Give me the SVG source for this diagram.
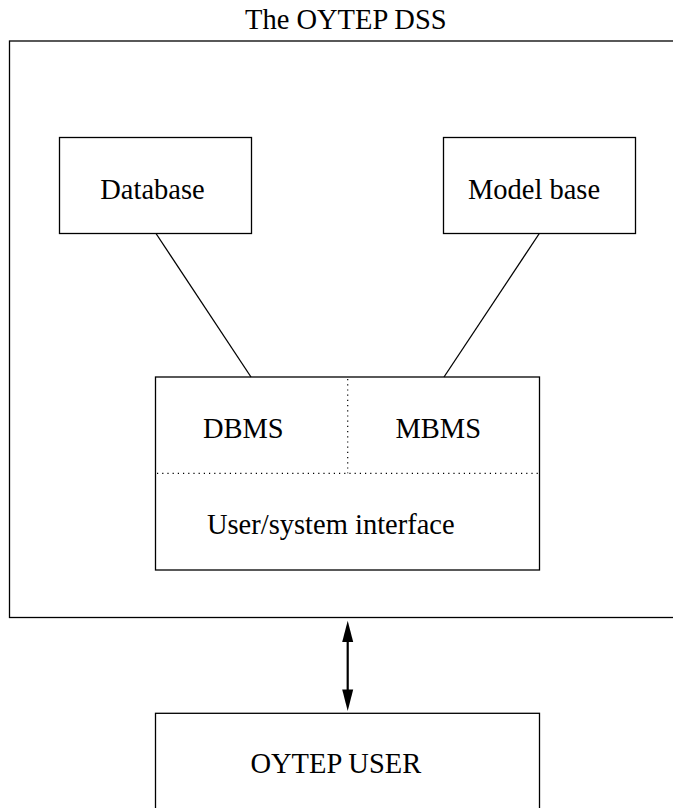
<svg xmlns="http://www.w3.org/2000/svg" width="673" height="808" viewBox="0 0 673 808">
<style>
text{font-family:"Liberation Serif","Times New Roman",serif;font-size:28.5px;fill:#000;text-anchor:middle}
.box{fill:none;stroke:#000;stroke-width:1.3}
.dot{stroke:#000;stroke-width:1.2;stroke-dasharray:1.2 4;fill:none}
.conn{stroke:#000;stroke-width:1.3;fill:none}
</style>
<rect width="673" height="808" fill="#fff"/>
<g id="dss">
<rect class="box" x="9.5" y="41" width="680" height="576.5"/>
<text x="345.8" y="28.5">The OYTEP DSS</text>
</g>
<g id="database">
<rect class="box" x="59.5" y="137.5" width="192" height="96"/>
<text x="152.5" y="199">Database</text>
</g>
<g id="modelbase">
<rect class="box" x="443.5" y="137.5" width="192" height="96"/>
<text x="534" y="199">Model base</text>
</g>
<g id="interface">
<rect class="box" x="155.5" y="377" width="384" height="193"/>
<line class="dot" x1="347.7" y1="379" x2="347.7" y2="473.3"/>
<line class="dot" x1="157" y1="473.3" x2="539" y2="473.3"/>
<text x="243.3" y="438.3">DBMS</text>
<text x="438.3" y="438.3">MBMS</text>
<text x="330.8" y="534">User/system interface</text>
</g>
<g id="user">
<rect class="box" x="155.5" y="713.3" width="384" height="120"/>
<text x="335.8" y="773.3">OYTEP USER</text>
</g>
<g id="connectors">
<line class="conn" x1="156" y1="233.5" x2="251" y2="377"/>
<line class="conn" x1="539.3" y1="233.5" x2="444" y2="377"/>
<line stroke="#000" stroke-width="2.2" x1="347.7" y1="636" x2="347.7" y2="696"/>
<polygon points="347.7,620.7 342.2,642 353.2,642" fill="#000"/>
<polygon points="347.7,711 342.2,689.5 353.2,689.5" fill="#000"/>
</g>
</svg>
